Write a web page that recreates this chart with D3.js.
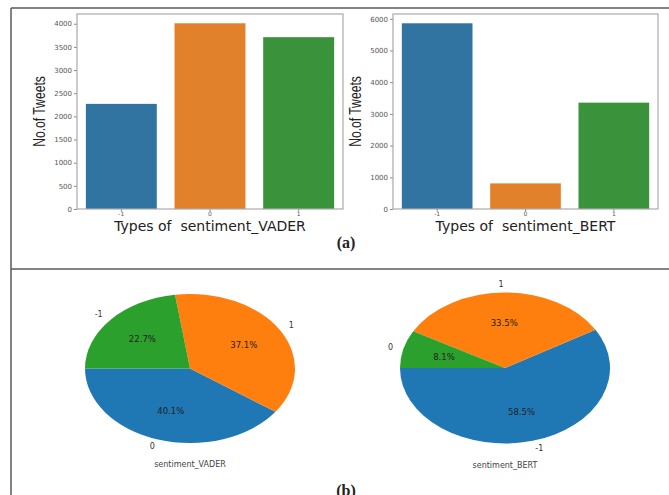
<!DOCTYPE html>
<html>
<head>
<meta charset="utf-8">
<script src="https://cdn.jsdelivr.net/npm/d3@7"></script>
<style>
  html, body { margin: 0; padding: 0; background: #fff; }
  svg { display: block; }
</style>
</head>
<body>
<svg id="fig" width="669" height="495"></svg>
<script>
// Sentiment class labels and tweet counts per classifier
const categories = ["-1", "0", "1"];
const countsVader = [2270, 4010, 3710];
const countsBert = [5858, 808, 3355];

// Y-axis tick values for the two count charts
const ticksVader = [0, 500, 1000, 1500, 2000, 2500, 3000, 3500, 4000];
const ticksBert = [0, 1000, 2000, 3000, 4000, 5000, 6000];

// Axis / panel titles
const xTitleVader = "Types of  sentiment_VADER";
const xTitleBert = "Types of  sentiment_BERT";
const yTitle = "No.of Tweets";
const pieTitleVader = "sentiment_VADER";
const pieTitleBert = "sentiment_BERT";
const panelA = "(a)";
const panelB = "(b)";

// Colours: seaborn-muted for bars, matplotlib tab for pies
const barColors = ["#3274a1", "#e1812c", "#3a923a"];
const pieColors = ["#1f77b4", "#ff7f0e", "#2ca02c"];

const svg = d3.select("#fig");

// Figure frame: top rule, left rule, separator between (a) and (b)
const frame = svg.append("g").attr("stroke", "#5a5a5a").attr("stroke-width", 1.5).attr("fill", "none");
frame.append("line").attr("x1", 11).attr("x2", 669).attr("y1", 8).attr("y2", 8);
frame.append("line").attr("x1", 11).attr("x2", 11).attr("y1", 8).attr("y2", 495);
frame.append("line").attr("x1", 11).attr("x2", 669).attr("y1", 269).attr("y2", 269);

function barChart(box, counts, ticks, xTitle) {
  const g = svg.append("g");
  const x = d3.scaleBand().domain(categories).range([box.x0, box.x1])
    .paddingInner(0.2).paddingOuter(0.1);
  const y = d3.scaleLinear().domain([0, d3.max(counts) * 1.05]).range([box.y1, box.y0]);

  g.selectAll("rect.bar").data(categories).join("rect")
    .attr("class", "bar")
    .attr("x", d => x(d))
    .attr("width", x.bandwidth())
    .attr("y", (d, i) => y(counts[i]))
    .attr("height", (d, i) => y(0) - y(counts[i]))
    .attr("fill", (d, i) => barColors[i]);

  // y axis
  const ya = g.append("g").attr("transform", `translate(${box.x0},0)`)
    .call(d3.axisLeft(y).tickValues(ticks).tickSize(3).tickPadding(2).tickFormat(d3.format("d")));
  ya.select(".domain").remove();
  ya.selectAll(".tick line").attr("stroke", "#888");
  ya.selectAll(".tick text").attr("fill", "#555")
    .style("font-family", "DejaVu Sans, sans-serif").style("font-size", "7px");

  // x axis
  const xa = g.append("g").attr("transform", `translate(0,${box.y1})`)
    .call(d3.axisBottom(x).tickSize(2.5).tickPadding(0.5));
  xa.select(".domain").remove();
  xa.selectAll(".tick line").attr("stroke", "#888");
  xa.selectAll(".tick text").attr("fill", "#555")
    .style("font-family", "DejaVu Sans, sans-serif").style("font-size", "6px");

  // spines
  g.append("rect").attr("x", box.x0).attr("y", box.y0)
    .attr("width", box.x1 - box.x0).attr("height", box.y1 - box.y0)
    .attr("fill", "none").attr("stroke", "#aaa").attr("stroke-width", 1.2);

  // titles
  g.append("text").attr("x", (box.x0 + box.x1) / 2).attr("y", box.y1 + 22)
    .attr("text-anchor", "middle").attr("fill", "#222")
    .style("font-family", "DejaVu Sans, sans-serif").style("font-size", "14px")
    .style("white-space", "pre").text(xTitle);
  // condensed vertical title: squeeze along the reading direction
  g.append("text")
    .attr("transform", `translate(${box.x0 - 32},${(box.y0 + box.y1) / 2}) rotate(-90) scale(0.76,1)`)
    .attr("text-anchor", "middle").attr("fill", "#222")
    .style("font-family", "'Liberation Sans', Arial, sans-serif")
    .style("font-size", "16px").text(yTitle);
}

barChart({x0: 77, x1: 343, y0: 14, y1: 209}, countsVader, ticksVader, xTitleVader);
barChart({x0: 393, x1: 658, y0: 14, y1: 209}, countsBert, ticksBert, xTitleBert);

function pieChart(cx, cy, rx, ry, counts, title) {
  // classes ordered by frequency, largest first
  const rows = categories.map((c, i) => ({label: c, value: counts[i]}))
    .sort((a, b) => b.value - a.value);
  const total = d3.sum(rows, d => d.value);
  // begin at 9 o'clock and run counter-clockwise
  const pie = d3.pie().value(d => d.value).sort(null)
    .startAngle(-Math.PI / 2).endAngle(-Math.PI / 2 - 2 * Math.PI);
  const arcs = pie(rows);
  const R = 100;
  const arc = d3.arc().innerRadius(0).outerRadius(R);
  const g = svg.append("g");
  g.append("g").attr("transform", `translate(${cx},${cy}) scale(${rx / R},${ry / R})`)
    .selectAll("path").data(arcs).join("path")
    .attr("d", arc).attr("fill", (d, i) => pieColors[i]);

  const pos = (a, k) => [cx + Math.sin(a) * k * rx, cy - Math.cos(a) * k * ry];
  const fmt = d3.format(".1f");
  arcs.forEach(d => {
    const mid = (d.startAngle + d.endAngle) / 2;
    const [lx, ly] = pos(mid, 1.1);
    g.append("text").attr("x", lx).attr("y", ly)
      .attr("text-anchor", Math.sin(mid) > 0 ? "start" : "end")
      .attr("dominant-baseline", "central").attr("fill", "#333")
      .style("font-family", "DejaVu Sans, sans-serif").style("font-size", "8px")
      .text(d.data.label);
    const [px, py] = pos(mid, 0.6);
    g.append("text").attr("x", px).attr("y", py)
      .attr("text-anchor", "middle").attr("dominant-baseline", "central").attr("fill", "#222")
      .style("font-family", "DejaVu Sans, sans-serif").style("font-size", "8.5px")
      .text(fmt(d.data.value / total * 100) + "%");
  });
  g.append("text").attr("x", cx).attr("y", cy + ry + 24)
    .attr("text-anchor", "middle").attr("fill", "#444")
    .style("font-family", "DejaVu Sans, sans-serif").style("font-size", "8px")
    .text(title);
}

pieChart(190, 368.5, 105, 74.5, countsVader, pieTitleVader);
pieChart(505, 368, 105, 75.5, countsBert, pieTitleBert);

// panel captions
svg.append("text").attr("x", 346).attr("y", 248).attr("text-anchor", "middle")
  .attr("fill", "#222").style("font-family", "'Liberation Serif', 'DejaVu Serif', serif")
  .style("font-size", "16px").style("font-weight", "bold").text(panelA);
svg.append("text").attr("x", 346).attr("y", 496).attr("text-anchor", "middle")
  .attr("fill", "#222").style("font-family", "'Liberation Serif', 'DejaVu Serif', serif")
  .style("font-size", "16px").style("font-weight", "bold").text(panelB);
</script>
</body>
</html>
